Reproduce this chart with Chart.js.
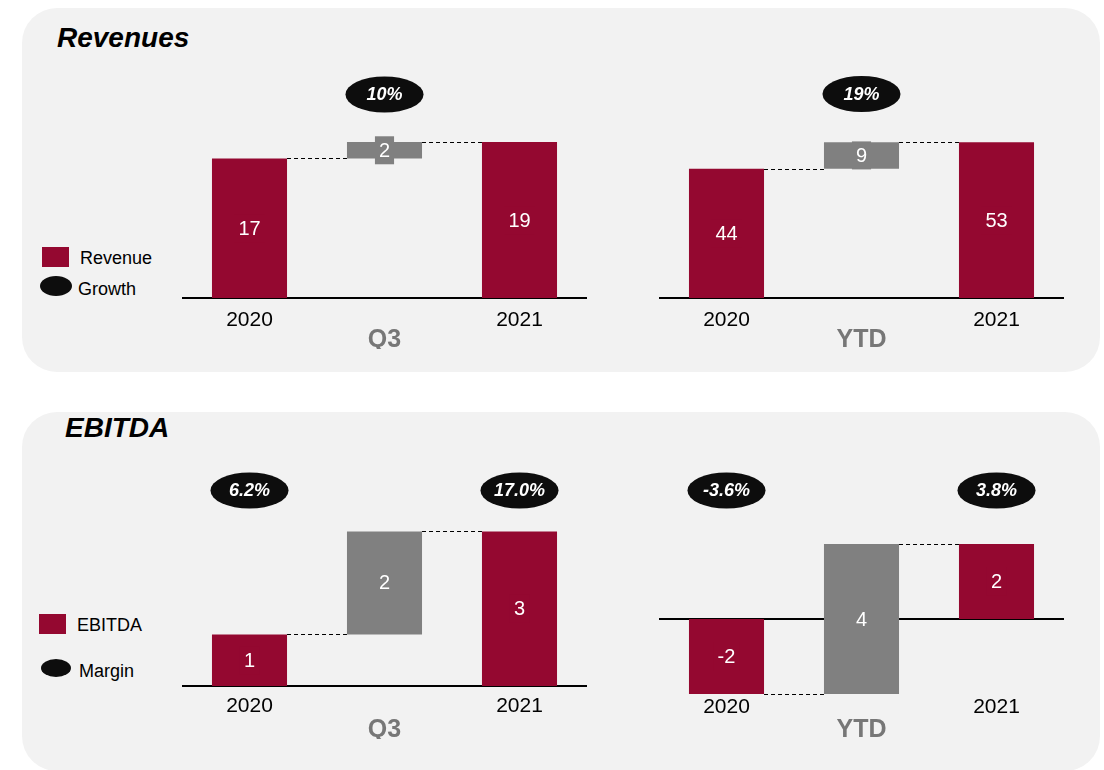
<!DOCTYPE html>
<html>
<head>
<meta charset="utf-8">
<script src="https://cdn.jsdelivr.net/npm/chart.js@4/dist/chart.umd.min.js"></script>
<style>
  html, body { margin: 0; padding: 0; background: #ffffff; }
  body { width: 1104px; height: 770px; position: relative; overflow: hidden;
         font-family: "Liberation Sans", Arial, sans-serif; }
  .panel { position: absolute; left: 22px; width: 1078px; background: #f2f2f2; border-radius: 35px; }
  .title { position: absolute; font-size: 28px; line-height: 28px; font-weight: bold; font-style: italic; color: #000; }
  .legend-text { position: absolute; font-size: 18px; line-height: 18px; color: #000; }
  .swatch { position: absolute; background: #940830; }
  .oval { position: absolute; background: #0d0d0d; border-radius: 50%; }
  canvas { position: absolute; }
</style>
</head>
<body>
  <div class="panel" style="top:8px; height:364px;"></div>
  <div class="panel" style="top:412px; height:359px;"></div>

  <div class="title" style="left:57px; top:24px;">Revenues</div>
  <div class="title" style="left:65px; top:414px;">EBITDA</div>

  <div class="swatch" style="left:42px; top:247px; width:27px; height:20px;"></div>
  <div class="legend-text" style="left:80px; top:249px;">Revenue</div>
  <div class="oval" style="left:40px; top:276px; width:32px; height:20px;"></div>
  <div class="legend-text" style="left:78px; top:280px;">Growth</div>

  <div class="swatch" style="left:39px; top:614px; width:27px; height:20px;"></div>
  <div class="legend-text" style="left:77px; top:616px;">EBITDA</div>
  <div class="oval" style="left:41px; top:659px; width:30px; height:18px;"></div>
  <div class="legend-text" style="left:79px; top:662px;">Margin</div>

  <canvas id="revQ3" width="405" height="289" style="left:182px; top:60px;"></canvas>
  <canvas id="revYTD" width="405" height="289" style="left:659px; top:60px;"></canvas>
  <canvas id="ebitdaQ3" width="405" height="289" style="left:182px; top:450px;"></canvas>
  <canvas id="ebitdaYTD" width="405" height="289" style="left:659px; top:450px;"></canvas>

<script>
// Category ticks shared by all four waterfalls
const categories = ['2020', '', '2021'];

// Revenue (start, change, end)
const revenueQ3 = [17, 2, 19];
const revenueYTD = [44, 9, 53];

// EBITDA (start, change, end)
const ebitdaQ3 = [1, 2, 3];
const ebitdaYTD = [-2, 4, 2];

// Oval badges above the bars (null = no badge)
const growthQ3 = [null, '10%', null];
const growthYTD = [null, '19%', null];
const marginQ3 = ['6.2%', null, '17.0%'];
const marginYTD = ['-3.6%', null, '3.8%'];

const FONT = '"Liberation Sans", Arial, sans-serif';
const RED = '#940830';
const GREY = '#808080';
const PERIOD_GREY = '#777777';
const barColors = [RED, GREY, RED];

Chart.defaults.font.family = FONT;

// Start and end bars sit on zero; the middle bar floats between them.
function toFloating(values) {
  return [[0, values[0]], [values[0], values[0] + values[1]], [0, values[2]]];
}

// Level of the running total after each bar, used for the dashed connectors.
function runningLevels(values) {
  return [values[0], values[0] + values[1]];
}

const waterfallPlugin = {
  id: 'waterfall',
  beforeDatasetsDraw(chart) {
    const { ctx, chartArea, scales } = chart;
    const y0 = Math.round(scales.y.getPixelForValue(0));
    ctx.save();
    ctx.strokeStyle = '#000';
    ctx.lineWidth = 2;
    ctx.beginPath();
    ctx.moveTo(chartArea.left, y0);
    ctx.lineTo(chartArea.right, y0);
    ctx.stroke();
    ctx.restore();
  },
  afterDatasetsDraw(chart, args, opts) {
    const { ctx, chartArea, scales } = chart;
    const bars = chart.getDatasetMeta(0).data;
    const values = opts.values;

    // dashed connectors between neighbouring bars
    ctx.save();
    ctx.strokeStyle = '#000';
    ctx.lineWidth = 1;
    ctx.setLineDash([4, 3]);
    runningLevels(values).forEach((level, i) => {
      const a = bars[i].getProps(['x', 'width'], true);
      const b = bars[i + 1].getProps(['x', 'width'], true);
      const py = Math.round(scales.y.getPixelForValue(level)) + 0.5;
      ctx.beginPath();
      ctx.moveTo(a.x + a.width / 2, py);
      ctx.lineTo(b.x - b.width / 2, py);
      ctx.stroke();
    });
    ctx.restore();

    // value labels centred in each bar, on a plate of the bar colour
    ctx.save();
    ctx.font = '20px ' + FONT;
    ctx.textAlign = 'center';
    ctx.textBaseline = 'middle';
    bars.forEach((bar, i) => {
      const p = bar.getProps(['x', 'y', 'base'], true);
      const cy = (p.y + p.base) / 2;
      const text = String(values[i]);
      const w = ctx.measureText(text).width + 8;
      ctx.fillStyle = barColors[i];
      ctx.fillRect(p.x - w / 2, cy - 14, w, 28);
      ctx.fillStyle = '#ffffff';
      ctx.fillText(text, p.x, cy + 1);
    });
    ctx.restore();

    // black oval badges
    ctx.save();
    ctx.font = 'italic bold 18px ' + FONT;
    ctx.textAlign = 'center';
    ctx.textBaseline = 'middle';
    opts.badges.forEach((label, i) => {
      if (label === null) return;
      const p = bars[i].getProps(['x', 'width'], true);
      const cy = chartArea.top + opts.badgeOffset;
      ctx.fillStyle = '#0d0d0d';
      ctx.beginPath();
      ctx.ellipse(p.x, cy, p.width / 2 + 1.5, 18, 0, 0, Math.PI * 2);
      ctx.fill();
      ctx.fillStyle = '#ffffff';
      ctx.fillText(label, p.x, cy + 1);
    });
    ctx.restore();
  }
};

function makeWaterfall(id, values, badges, cfg) {
  new Chart(document.getElementById(id), {
    type: 'bar',
    data: {
      labels: categories,
      datasets: [{
        data: toFloating(values),
        backgroundColor: barColors,
        borderWidth: 0,
        categoryPercentage: 1,
        barPercentage: 0.556,
        clip: false
      }]
    },
    options: {
      responsive: false,
      animation: false,
      events: [],
      layout: { padding: 0 },
      plugins: {
        legend: { display: false },
        tooltip: { enabled: false },
        waterfall: { values: values, badges: badges, badgeOffset: cfg.badgeOffset }
      },
      scales: {
        x: {
          grid: { display: false, drawTicks: false },
          border: { display: false },
          ticks: { color: '#000', padding: cfg.tickPadding, font: { size: 21, lineHeight: 1 } },
          title: {
            display: true, text: cfg.period, color: PERIOD_GREY,
            padding: { top: cfg.titleGap, bottom: 0 },
            font: { size: 25, weight: 'bold', lineHeight: 0.72 }
          }
        },
        y: { display: false, min: cfg.min, max: cfg.max }
      }
    },
    plugins: [waterfallPlugin]
  });
}

makeWaterfall('revQ3', revenueQ3, growthQ3,
  { period: 'Q3', min: 0, max: 29.0, tickPadding: 12, titleGap: -12, badgeOffset: 34.5 });
makeWaterfall('revYTD', revenueYTD, growthYTD,
  { period: 'YTD', min: 0, max: 80.95, tickPadding: 12, titleGap: -12, badgeOffset: 34 });
makeWaterfall('ebitdaQ3', ebitdaQ3, marginQ3,
  { period: 'Q3', min: 0, max: 4.58, tickPadding: 10, titleGap: -6, badgeOffset: 40.5 });
makeWaterfall('ebitdaYTD', ebitdaYTD, marginYTD,
  { period: 'YTD', min: -2, max: 4.507, tickPadding: 2.5, titleGap: 1, badgeOffset: 40.5 });
</script>
</body>
</html>
